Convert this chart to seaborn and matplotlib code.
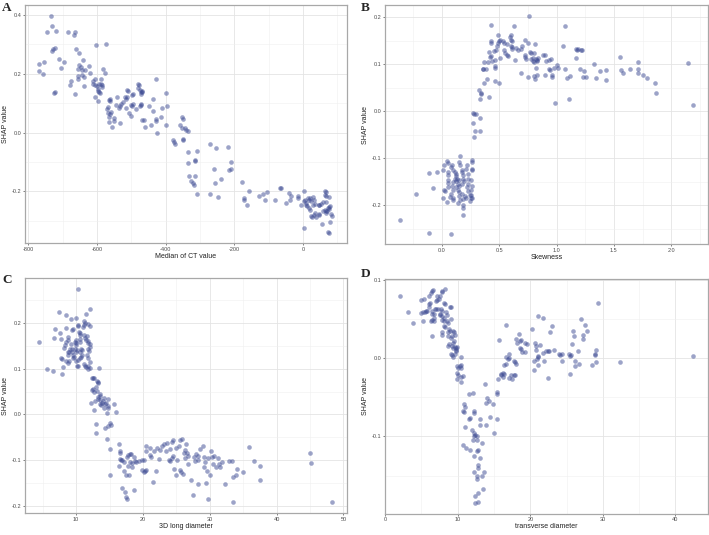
import matplotlib
matplotlib.use("Agg")
import matplotlib.pyplot as plt
from matplotlib.ticker import MultipleLocator
import seaborn as sns

# A: median of CT value vs SHAP
ct_median = [-734, -731, -746, -720, -686, -665, -667, -602, -574, -732,
             -729, -724, -662, -653, -710, -697, -640, -768, -756, -768,
             -757, -705, -653, -648, -657, -645, -624, -634, -655, -643,
             -638, -657, -620, -583, -578, -613, -606, -637, -675, -680,
             -613, -607, -601, -595, -590, -588, -585, -587, -594, -591,
             -596, -598, -727, -724, -665, -606, -596, -563, -566, -563,
             -570, -567, -546, -541, -536, -533, -529, -524, -513, -510,
             -516, -519, -513, -517, -499, -494, -502, -497, -494, -507,
             -502, -488, -481, -475, -473, -470, -470, -473, -481, -478,
             -475, -471, -473, -470, -464, -459, -448, -442, -438, -428,
             -427, -429, -425, -437, -411, -413, -399, -396, -399, -565,
             -568, -564, -556, -551, -551, -534, -563, -558, -379, -377,
             -374, -357, -351, -349, -351, -349, -349, -343, -340, -335,
             -335, -336, -333, -325, -319, -317, -316, -315, -316, -310,
             -308, -272, -272, -258, -257, -252, -248, -240, -217, -214,
             -211, -211, -179, -171, -171, -164, -157, -128, -116, -111,
             -106, -82, -66, -63, -50, -41, -34, -39, -13, -13,
             -5, 2, 2, 5, 2, 8, 12, 10, 14, 19,
             22, 24, 19, 21, 29, 31, 29, 34, 24, 27,
             34, 31, 37, 46, 48, 46, 48, 53, 56, 63,
             66, 64, 66, 60, 68, 63, 66, 60, 72, 75,
             77, 79, 75, 83, 85, 79, 74, 77, 70, 68]
ct_shap = [0.398, 0.364, 0.342, 0.346, 0.342, 0.342, 0.333, 0.297, 0.302, 0.277,
           0.283, 0.288, 0.283, 0.270, 0.249, 0.240, 0.246, 0.235, 0.240, 0.210,
           0.201, 0.219, 0.229, 0.224, 0.216, 0.213, 0.227, 0.212, 0.193, 0.196,
           0.188, 0.184, 0.202, 0.216, 0.202, 0.176, 0.182, 0.157, 0.176, 0.162,
           0.165, 0.162, 0.157, 0.165, 0.182, 0.165, 0.162, 0.154, 0.139, 0.134,
           0.148, 0.143, 0.135, 0.137, 0.131, 0.120, 0.109, 0.115, 0.111, 0.109,
           0.081, 0.087, 0.094, 0.122, 0.083, 0.089, 0.098, 0.103, 0.145, 0.140,
           0.115, 0.120, 0.122, 0.083, 0.128, 0.131, 0.094, 0.092, 0.098, 0.066,
           0.058, 0.081, 0.151, 0.146, 0.131, 0.139, 0.143, 0.137, 0.167, 0.162,
           0.090, 0.094, 0.098, 0.044, 0.042, 0.019, 0.092, 0.027, 0.115, 0.182,
           0.045, 0.039, -0.001, 0.075, 0.083, 0.053, 0.134, 0.092, 0.025, 0.036,
           0.066, 0.053, 0.019, 0.038, 0.049, 0.033, 0.064, 0.070, -0.026, -0.031,
           -0.040, 0.027, 0.053, 0.047, 0.016, -0.020, -0.026, 0.016, 0.010, 0.006,
           -0.065, -0.104, -0.149, -0.166, -0.172, -0.178, -0.097, -0.093, -0.147, -0.209,
           -0.063, -0.037, -0.209, -0.125, -0.170, -0.052, -0.219, -0.157, -0.048, -0.127,
           -0.124, -0.099, -0.169, -0.222, -0.230, -0.247, -0.198, -0.215, -0.209, -0.230,
           -0.202, -0.230, -0.187, -0.189, -0.239, -0.206, -0.215, -0.228, -0.217, -0.222,
           -0.245, -0.198, -0.231, -0.228, -0.324, -0.247, -0.251, -0.239, -0.222, -0.228,
           -0.222, -0.234, -0.256, -0.262, -0.220, -0.228, -0.247, -0.243, -0.284, -0.288,
           -0.273, -0.279, -0.288, -0.245, -0.247, -0.276, -0.281, -0.243, -0.312, -0.200,
           -0.203, -0.211, -0.217, -0.236, -0.236, -0.262, -0.265, -0.267, -0.256, -0.260,
           -0.254, -0.251, -0.220, -0.276, -0.284, -0.303, -0.337, -0.340, -0.267, -0.273]

# B: skewness vs SHAP
skewness = [-0.37, -0.23, -0.11, -0.11, -0.08, -0.04, 0.01, 0.02, 0.04, 0.05,
            0.02, 0.03, 0.01, 0.04, 0.05, 0.05, 0.05, 0.05, 0.05, 0.08,
            0.09, 0.10, 0.08, 0.09, 0.10, 0.08, 0.07, 0.10, 0.10, 0.11,
            0.12, 0.12, 0.11, 0.12, 0.10, 0.13, 0.15, 0.14, 0.15, 0.12,
            0.14, 0.15, 0.17, 0.15, 0.15, 0.16, 0.16, 0.17, 0.17, 0.18,
            0.18, 0.19, 0.17, 0.20, 0.21, 0.18, 0.16, 0.14, 0.18, 0.18,
            0.18, 0.22, 0.21, 0.23, 0.23, 0.23, 0.22, 0.23, 0.24, 0.25,
            0.24, 0.26, 0.26, 0.26, 0.26, 0.25, 0.26, 0.25, 0.26, 0.25,
            0.27, 0.28, 0.30, 0.27, 0.28, 0.29, 0.33, 0.33, 0.32, 0.34,
            0.34, 0.33, 0.36, 0.36, 0.37, 0.37, 0.39, 0.41, 0.40, 0.41,
            0.42, 0.43, 0.43, 0.43, 0.43, 0.44, 0.46, 0.45, 0.46, 0.46,
            0.46, 0.47, 0.48, 0.49, 0.50, 0.49, 0.51, 0.50, 0.51, 0.53,
            0.54, 0.54, 0.55, 0.57, 0.58, 0.57, 0.59, 0.60, 0.61, 0.60,
            0.61, 0.60, 0.61, 0.63, 0.64, 0.65, 0.66, 0.69, 0.69, 0.70,
            0.72, 0.72, 0.72, 0.73, 0.75, 0.75, 0.76, 0.77, 0.78, 0.78,
            0.79, 0.79, 0.80, 0.80, 0.81, 0.80, 0.81, 0.82, 0.83, 0.82,
            0.83, 0.84, 0.83, 0.88, 0.90, 0.90, 0.91, 0.93, 0.93, 0.94,
            0.95, 0.96, 0.96, 0.98, 0.99, 1.00, 1.01, 1.06, 1.07, 1.07,
            1.09, 1.11, 1.12, 1.17, 1.17, 1.18, 1.19, 1.21, 1.22, 1.20,
            1.23, 1.24, 1.26, 1.33, 1.34, 1.38, 1.43, 1.43, 1.55, 1.56,
            1.58, 1.64, 1.71, 1.71, 1.71, 1.75, 1.79, 1.86, 1.87, 2.15,
            2.19, 0.38]
skew_shap = [-0.232, -0.175, -0.132, -0.259, -0.163, -0.129, -0.124, -0.114, -0.105, -0.110,
             -0.168, -0.170, -0.185, -0.193, -0.130, -0.135, -0.147, -0.153, -0.161, -0.119,
             -0.115, -0.124, -0.260, -0.158, -0.168, -0.175, -0.182, -0.189, -0.185, -0.130,
             -0.133, -0.137, -0.144, -0.149, -0.151, -0.145, -0.146, -0.154, -0.158, -0.161,
             -0.168, -0.172, -0.175, -0.180, -0.108, -0.114, -0.096, -0.124, -0.130, -0.135,
             -0.144, -0.149, -0.154, -0.180, -0.185, -0.186, -0.188, -0.194, -0.200, -0.206,
             -0.220, -0.115, -0.123, -0.133, -0.144, -0.154, -0.161, -0.170, -0.179, -0.184,
             -0.190, -0.104, -0.107, -0.123, -0.125, -0.147, -0.158, -0.168, -0.185, -0.179,
             -0.004, -0.005, -0.005, -0.025, -0.054, -0.042, -0.042, -0.015, 0.046, 0.038,
             0.036, 0.027, 0.090, 0.089, 0.104, 0.061, 0.069, 0.031, 0.104, 0.125,
             0.115, 0.117, 0.149, 0.146, 0.184, 0.106, 0.108, 0.127, 0.097, 0.092,
             0.064, 0.131, 0.138, 0.163, 0.149, 0.145, 0.151, 0.059, 0.113, 0.149,
             0.145, 0.131, 0.124, 0.120, 0.117, 0.142, 0.158, 0.152, 0.149, 0.138,
             0.136, 0.163, 0.132, 0.182, 0.108, 0.135, 0.131, 0.082, 0.133, 0.138,
             0.152, 0.120, 0.115, 0.110, 0.146, 0.073, 0.203, 0.125, 0.123, 0.111,
             0.113, 0.106, 0.104, 0.075, 0.069, 0.124, 0.142, 0.111, 0.108, 0.092,
             0.106, 0.113, 0.078, 0.120, 0.119, 0.076, 0.106, 0.108, 0.090, 0.087,
             0.110, 0.078, 0.073, 0.092, 0.018, 0.099, 0.092, 0.139, 0.182, 0.090,
             0.070, 0.027, 0.075, 0.113, 0.132, 0.131, 0.132, 0.130, 0.131, 0.090,
             0.073, 0.085, 0.073, 0.100, 0.071, 0.086, 0.066, 0.087, 0.115, 0.087,
             0.082, 0.090, 0.104, 0.090, 0.082, 0.078, 0.070, 0.059, 0.039, 0.103,
             0.013, 0.089]

# C: 3D long diameter vs SHAP
long_diam = [4.5, 5.7, 6.5, 6.7, 6.8, 7.4, 7.6, 7.7, 7.8, 7.9,
             7.9, 8.0, 8.2, 8.3, 8.4, 8.5, 8.4, 8.5, 8.7, 8.8,
             8.7, 8.8, 8.9, 8.8, 8.9, 9.0, 9.2, 9.3, 9.2, 9.4,
             9.5, 9.4, 9.5, 9.7, 9.5, 9.8, 9.9, 10.0, 10.0, 9.9,
             9.8, 10.1, 9.9, 10.2, 10.3, 10.3, 10.2, 10.1, 10.0, 10.3,
             10.4, 10.5, 10.6, 10.5, 10.5, 10.7, 10.8, 10.6, 10.7, 10.6,
             10.9, 11.0, 11.2, 11.2, 11.3, 11.5, 11.2, 11.3, 11.1, 11.3,
             11.5, 11.5, 11.6, 11.7, 11.6, 11.8, 11.8, 12.0, 12.0, 11.8,
             11.9, 12.1, 11.8, 12.0, 11.8, 11.7, 12.1, 12.0, 12.2, 12.3,
             12.5, 12.6, 12.3, 12.5, 12.6, 12.6, 12.8, 13.0, 13.1, 13.0,
             13.0, 13.1, 13.2, 13.3, 13.2, 13.3, 13.4, 13.5, 13.5, 13.6,
             13.6, 13.7, 13.8, 14.0, 14.1, 14.2, 14.3, 14.5, 14.3, 14.6,
             14.7, 14.8, 14.8, 14.7, 14.6, 15.0, 15.1, 15.2, 15.0, 15.7,
             15.9, 16.4, 16.6, 16.6, 16.6, 16.7, 16.4, 16.9, 17.1, 16.9,
             17.2, 17.3, 17.4, 17.6, 17.4, 17.6, 17.7, 17.8, 17.9, 18.0,
             18.2, 18.1, 18.3, 18.4, 18.6, 18.7, 18.8, 18.9, 19.4, 19.8,
             20.1, 19.9, 20.1, 20.3, 20.4, 20.5, 20.5, 21.0, 21.1, 21.2,
             21.5, 21.7, 21.9, 22.1, 22.4, 22.6, 22.9, 23.1, 23.4, 23.6,
             23.9, 24.0, 24.1, 24.3, 24.4, 24.5, 24.5, 24.7, 24.9, 25.0,
             25.1, 25.4, 25.5, 25.5, 25.7, 25.8, 26.0, 26.2, 26.3, 26.3,
             26.5, 26.6, 26.7, 26.7, 27.2, 27.5, 27.6, 27.8, 28.0, 28.2,
             28.3, 28.3, 28.5, 29.0, 29.1, 29.2, 29.3, 29.5, 29.6, 29.7,
             29.7, 30.0, 30.2, 30.3, 30.5, 30.6, 30.9, 31.3, 31.4, 31.5,
             31.8, 32.3, 32.9, 33.3, 33.4, 33.5, 33.9, 34.1, 35.0, 35.8,
             36.6, 37.5, 37.5, 45.0, 45.2, 48.3]
long_shap = [0.159, 0.100, 0.096, 0.168, 0.187, 0.224, 0.179, 0.166, 0.124, 0.121,
             0.089, 0.103, 0.146, 0.151, 0.218, 0.189, 0.116, 0.159, 0.162, 0.169,
             0.137, 0.130, 0.137, 0.112, 0.116, 0.144, 0.155, 0.144, 0.209, 0.184,
             0.187, 0.137, 0.131, 0.126, 0.123, 0.159, 0.164, 0.157, 0.151, 0.212,
             0.144, 0.141, 0.136, 0.193, 0.196, 0.275, 0.107, 0.105, 0.116, 0.119,
             0.181, 0.179, 0.174, 0.166, 0.159, 0.144, 0.141, 0.136, 0.126, 0.124,
             0.129, 0.191, 0.196, 0.173, 0.167, 0.164, 0.205, 0.201, 0.110, 0.107,
             0.103, 0.219, 0.129, 0.124, 0.171, 0.160, 0.157, 0.155, 0.148, 0.144,
             0.139, 0.230, 0.198, 0.194, 0.105, 0.100, 0.114, 0.101, 0.024, 0.080,
             0.079, 0.080, 0.053, 0.055, 0.048, 0.010, 0.030, 0.059, 0.051, -0.022,
             -0.041, 0.074, 0.071, 0.069, 0.037, 0.034, 0.101, 0.023, 0.044, 0.041,
             0.031, 0.021, 0.024, 0.029, 0.035, 0.014, 0.023, 0.024, -0.029, 0.003,
             0.034, 0.019, 0.014, -0.026, -0.054, -0.076, -0.020, -0.024, -0.133, 0.023,
             0.005, -0.066, -0.081, -0.084, -0.097, -0.100, -0.114, -0.100, -0.104, -0.161,
             -0.124, -0.170, -0.181, -0.186, -0.133, -0.093, -0.090, -0.113, -0.133, -0.088,
             -0.086, -0.104, -0.106, -0.116, -0.093, -0.165, -0.102, -0.104, -0.102, -0.100,
             -0.100, -0.121, -0.126, -0.124, -0.081, -0.070, -0.121, -0.090, -0.074, -0.093,
             -0.149, -0.081, -0.124, -0.074, -0.097, -0.079, -0.070, -0.066, -0.081, -0.063,
             -0.100, -0.102, -0.076, -0.061, -0.095, -0.091, -0.056, -0.120, -0.074, -0.134,
             -0.099, -0.069, -0.056, -0.121, -0.126, -0.054, -0.131, -0.084, -0.079, -0.095,
             -0.066, -0.084, -0.091, -0.109, -0.144, -0.177, -0.094, -0.102, -0.088, -0.099,
             -0.091, -0.152, -0.077, -0.069, -0.116, -0.093, -0.104, -0.150, -0.124, -0.186,
             -0.096, -0.134, -0.081, -0.093, -0.109, -0.091, -0.116, -0.096, -0.109, -0.116,
             -0.104, -0.152, -0.102, -0.102, -0.193, -0.138, -0.133, -0.120, -0.126, -0.072,
             -0.102, -0.113, -0.145, -0.084, -0.107, -0.193]

# D: transverse diameter vs SHAP
trans_diam = [2.0, 3.1, 3.8, 4.9, 5.3, 5.0, 5.2, 5.2, 5.5, 5.6,
              5.8, 6.0, 6.1, 6.2, 6.1, 6.3, 6.4, 6.6, 6.3, 6.5,
              6.4, 6.4, 6.5, 6.7, 6.8, 6.8, 6.9, 7.0, 7.0, 7.2,
              7.2, 7.4, 7.5, 7.3, 7.5, 7.6, 7.7, 7.8, 7.8, 7.9,
              8.2, 7.9, 8.1, 7.9, 8.1, 8.1, 8.3, 7.8, 7.9, 8.1,
              8.2, 8.4, 8.5, 8.5, 8.6, 8.6, 8.7, 8.8, 9.0, 9.0,
              9.1, 9.1, 8.7, 8.8, 9.1, 9.2, 9.2, 9.3, 9.3, 9.1,
              9.2, 9.4, 9.4, 9.5, 9.6, 9.5, 9.6, 9.7, 9.7, 9.6,
              9.8, 9.9, 9.9, 10.0, 9.9, 10.1, 9.9, 10.3, 10.4, 10.4,
              10.4, 10.4, 10.5, 10.7, 10.7, 10.7, 10.8, 10.9, 11.0, 11.0,
              11.1, 11.6, 11.7, 11.6, 11.7, 12.1, 11.9, 12.2, 12.2, 12.1,
              12.2, 12.3, 12.4, 12.3, 12.3, 12.4, 12.4, 12.6, 12.7, 12.6,
              12.8, 12.7, 12.8, 12.8, 12.7, 12.8, 12.8, 13.0, 13.0, 13.0,
              13.3, 13.4, 13.5, 13.6, 13.8, 13.9, 14.0, 13.9, 14.3, 14.5,
              14.9, 15.0, 15.4, 15.4, 15.4, 15.6, 15.7, 15.9, 16.0, 16.3,
              16.4, 16.2, 16.4, 16.6, 16.6, 16.7, 16.9, 17.0, 17.0, 17.1,
              17.4, 17.5, 17.7, 17.9, 17.8, 17.9, 18.0, 18.0, 18.2, 18.5,
              18.6, 18.7, 18.6, 18.7, 18.9, 19.2, 19.2, 19.6, 20.3, 20.5,
              20.5, 20.6, 20.8, 20.8, 20.9, 21.0, 21.1, 21.1, 21.1, 21.3,
              21.8, 21.8, 21.9, 22.1, 22.4, 22.6, 22.4, 22.7, 23.0, 23.3,
              24.0, 24.1, 24.3, 24.4, 25.3, 25.5, 25.6, 25.5, 25.7, 25.9,
              26.0, 26.1, 26.2, 26.6, 26.7, 27.0, 27.2, 27.3, 27.6, 27.8,
              28.5, 28.9, 28.9, 29.0, 29.1, 29.3, 32.4, 42.4]
trans_shap = [0.079, 0.059, 0.045, 0.074, 0.076, 0.058, 0.059, 0.048, 0.059, 0.061,
              0.060, 0.066, 0.069, 0.070, 0.080, 0.083, 0.086, 0.087, 0.047, 0.049,
              0.028, 0.061, 0.056, 0.057, 0.051, 0.048, 0.063, 0.063, 0.073, 0.075,
              0.080, 0.076, 0.079, 0.063, 0.055, 0.057, 0.063, 0.061, 0.086, 0.085,
              0.088, 0.054, 0.052, 0.049, 0.047, 0.070, 0.069, 0.034, 0.030, 0.041,
              0.040, 0.059, 0.055, 0.048, 0.045, 0.034, 0.028, 0.038, 0.035, 0.066,
              0.065, 0.050, 0.016, 0.018, 0.026, 0.028, 0.016, 0.019, 0.013, 0.006,
              0.004, 0.002, 0.035, 0.033, 0.030, 0.022, 0.015, 0.013, 0.011, 0.006,
              0.009, 0.015, -0.010, -0.012, -0.019, -0.021, -0.027, -0.010, -0.013, -0.009,
              0.002, -0.030, -0.024, -0.023, -0.111, -0.068, -0.069, -0.059, -0.062, -0.088,
              -0.115, -0.078, -0.077, -0.046, -0.117, -0.044, -0.092, -0.068, -0.070, -0.105,
              -0.096, -0.100, -0.098, -0.125, -0.145, -0.176, -0.185, -0.105, -0.099, -0.155,
              -0.117, -0.118, -0.137, -0.140, -0.151, -0.172, -0.184, -0.078, -0.086, -0.127,
              -0.150, -0.108, -0.167, -0.146, -0.033, -0.057, -0.051, -0.086, -0.055, -0.075,
              -0.059, -0.096, -0.043, -0.046, -0.078, -0.026, 0.023, -0.021, -0.020, -0.019,
              -0.020, -0.024, -0.009, -0.008, 0.001, 0.043, -0.001, 0.000, 0.005, -0.025,
              -0.021, -0.026, -0.021, -0.021, -0.003, -0.005, -0.008, 0.025, 0.020, 0.031,
              0.013, 0.012, 0.022, 0.023, 0.008, 0.008, 0.019, 0.018, 0.038, -0.003,
              -0.015, 0.020, 0.016, 0.011, -0.001, 0.001, 0.003, -0.009, 0.054, 0.017,
              0.052, 0.007, -0.003, 0.009, 0.009, 0.009, -0.025, 0.034, 0.041, 0.010,
              0.006, 0.004, 0.006, -0.003, 0.005, 0.003, 0.004, -0.020, 0.018, 0.035,
              0.028, -0.010, -0.003, 0.009, -0.008, 0.050, 0.030, 0.025, 0.042, 0.035,
              -0.009, 0.004, 0.006, 0.010, -0.005, 0.070, -0.005, 0.003]

sns.set_theme(style="white")
plt.rcParams["font.family"] = ["Liberation Sans", "DejaVu Sans"]
plt.rcParams["axes.unicode_minus"] = False

point_color = "#3B4992"

fig = plt.figure(figsize=(7.09, 5.35), dpi=100)

# letter, x, y, x title, x step, y step, axes box
panels = [
    ("A", ct_median, ct_shap, "Median of CT value", 200, 0.2, [0.035, 0.545, 0.454, 0.446]),
    ("B", skewness, skew_shap, "Skewness", 0.5, 0.1, [0.543, 0.543, 0.455, 0.448]),
    ("C", long_diam, long_shap, "3D long diameter", 10, 0.1, [0.035, 0.041, 0.454, 0.439]),
    ("D", trans_diam, trans_shap, "transverse diameter", 10, 0.1, [0.543, 0.040, 0.455, 0.439]),
]
letter_pos = {"A": (0.003, 0.997), "B": (0.509, 0.997), "C": (0.003, 0.488), "D": (0.509, 0.499)}

for letter, xs, ys, xtitle, xstep, ystep, box in panels:
    ax = fig.add_axes(box)
    sns.scatterplot(x=xs, y=ys, ax=ax, color=point_color, alpha=0.5,
                    s=11, linewidth=0, edgecolor=None)
    ax.xaxis.set_major_locator(MultipleLocator(xstep))
    ax.xaxis.set_minor_locator(MultipleLocator(xstep / 2))
    ax.yaxis.set_major_locator(MultipleLocator(ystep))
    ax.yaxis.set_minor_locator(MultipleLocator(ystep / 2))
    ax.grid(which="major", color="#E4E4E4", linewidth=0.6)
    ax.grid(which="minor", color="#EFEFEF", linewidth=0.4)
    ax.set_axisbelow(True)
    for sp in ax.spines.values():
        sp.set_color("#A8A8A8")
        sp.set_linewidth(0.9)
    ax.tick_params(which="major", length=1.5, width=0.5, color="#4D4D4D",
                   labelsize=4, labelcolor="#4D4D4D", pad=1, bottom=True, left=True)
    ax.tick_params(which="minor", length=0)
    ax.set_xlabel(xtitle, fontsize=5, color="#222222", labelpad=1)
    ax.set_ylabel("SHAP value", fontsize=5, color="#222222", labelpad=2)
    lx, ly = letter_pos[letter]
    fig.text(lx, ly, letter, fontsize=9.5, fontweight="bold", va="top", ha="left",
             family=["Liberation Serif", "DejaVu Serif"])

fig.savefig("out.png", dpi=100)
